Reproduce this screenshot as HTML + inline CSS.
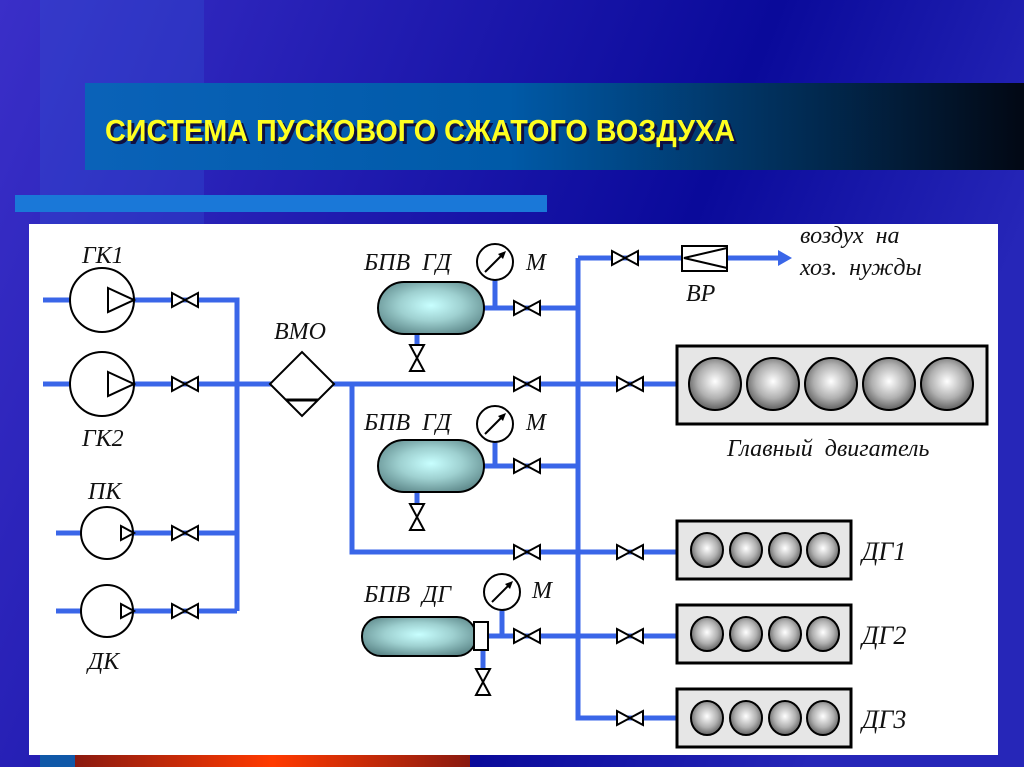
<!DOCTYPE html>
<html><head><meta charset="utf-8"><style>
html,body{margin:0;padding:0;width:1024px;height:767px;overflow:hidden}
svg{display:block}
.l{font-family:"Liberation Serif","DejaVu Serif",serif;font-style:italic;font-size:24px;fill:#111;word-spacing:6px}
.b{font-size:26px}
</style></head><body>
<svg width="1024" height="767" viewBox="0 0 1024 767" xmlns="http://www.w3.org/2000/svg">
<defs>
<linearGradient id="bg" x1="0" y1="0" x2="1" y2="0.3">
<stop offset="0" stop-color="#3a2fc8"/><stop offset="0.7" stop-color="#0a0a9a"/><stop offset="1" stop-color="#2626b8"/></linearGradient>
<linearGradient id="tb" x1="0" y1="0" x2="1" y2="0">
<stop offset="0" stop-color="#0a62b8"/><stop offset="0.45" stop-color="#005aa8"/><stop offset="1" stop-color="#020814"/></linearGradient>
<linearGradient id="rb" x1="0" y1="0" x2="1" y2="0">
<stop offset="0" stop-color="#8a1a10"/><stop offset="0.5" stop-color="#ff3a00"/><stop offset="1" stop-color="#8a1a10"/></linearGradient>
<radialGradient id="tank" cx="0.5" cy="0.45" r="0.6">
<stop offset="0" stop-color="#c8ffff"/><stop offset="0.5" stop-color="#9ed0d0"/><stop offset="1" stop-color="#5f8a8c"/></radialGradient>
<radialGradient id="cyl" cx="0.5" cy="0.45" r="0.55">
<stop offset="0" stop-color="#ffffff"/><stop offset="0.6" stop-color="#b0b0b0"/><stop offset="1" stop-color="#606060"/></radialGradient>
<g id="vh"><path d="M-13,-7 L13,7 L13,-7 L-13,7 Z" fill="#fff" stroke="#000" stroke-width="2"/></g>
<g id="vv"><path d="M-7,-13 L7,13 L-7,13 L7,-13 Z" fill="#fff" stroke="#000" stroke-width="2"/></g>
</defs>
<rect width="1024" height="767" fill="url(#bg)"/>
<rect x="40" y="0" width="164" height="767" fill="#3050d0" opacity="0.35"/>
<rect x="85" y="83" width="939" height="87" fill="url(#tb)"/>
<rect x="15" y="195" width="532" height="17" fill="#1a78d8"/>
<text x="108" y="144" font-family="'Liberation Sans',sans-serif" font-weight="bold" font-size="31" fill="#101040" textLength="630" lengthAdjust="spacingAndGlyphs">СИСТЕМА ПУСКОВОГО СЖАТОГО ВОЗДУХА</text>
<text x="105" y="141" font-family="'Liberation Sans',sans-serif" font-weight="bold" font-size="31" fill="#ffff20" textLength="630" lengthAdjust="spacingAndGlyphs">СИСТЕМА ПУСКОВОГО СЖАТОГО ВОЗДУХА</text>
<rect x="40" y="755" width="35" height="12" fill="#1058a8"/>
<rect x="75" y="755" width="395" height="12" fill="url(#rb)"/>
<rect x="29" y="224" width="969" height="531" fill="#fff"/>
<g stroke="#3a66e8" stroke-width="5" fill="none">
<path d="M43,300 H237 V611"/>
<path d="M43,384 H680"/>
<path d="M56,533 H237"/><path d="M56,611 H237"/>
<path d="M352,384 V552 H680"/>
<path d="M578,258 V718 H680"/>
<path d="M578,258 H682"/><path d="M727,258 H778"/>
<path d="M484,308 H578"/><path d="M495,280 V308"/>
<path d="M484,466 H578"/><path d="M495,442 V466"/>
<path d="M488,636 H680"/><path d="M502,610 V636"/>
<path d="M417,334 V352"/><path d="M417,492 V510"/><path d="M483,650 V676"/>
</g>
<path d="M778,250 L792,258 L778,266 Z" fill="#3a66e8"/>
<g stroke="#000" stroke-width="2" fill="#fff">
<circle cx="102" cy="300" r="32"/><path d="M108,288 L134,300 L108,312 Z"/>
<circle cx="102" cy="384" r="32"/><path d="M108,372 L134,384 L108,396 Z"/>
<circle cx="107" cy="533" r="26"/><path d="M121,526 L134,533 L121,540 Z"/>
<circle cx="107" cy="611" r="26"/><path d="M121,604 L134,611 L121,618 Z"/>
<path d="M270,384 L302,352 L334,384 L302,416 Z"/>
<line x1="286" y1="400" x2="318" y2="400" stroke-width="3"/>
<rect x="682" y="246" width="45" height="25"/>
<path d="M727,248 L684,258 L727,268" fill="none"/>
</g>
<use href="#vh" x="185" y="300"/><use href="#vh" x="185" y="384"/>
<use href="#vh" x="185" y="533"/><use href="#vh" x="185" y="611"/>
<use href="#vh" x="527" y="308"/><use href="#vh" x="527" y="384"/>
<use href="#vh" x="527" y="466"/><use href="#vh" x="527" y="552"/>
<use href="#vh" x="527" y="636"/>
<use href="#vh" x="625" y="258"/><use href="#vh" x="630" y="384"/>
<use href="#vh" x="630" y="552"/><use href="#vh" x="630" y="636"/><use href="#vh" x="630" y="718"/>
<use href="#vv" x="417" y="358"/><use href="#vv" x="417" y="517"/><use href="#vv" x="483" y="682"/>
<g stroke="#000" stroke-width="2">
<rect x="378" y="282" width="106" height="52" rx="26" fill="url(#tank)"/>
<rect x="378" y="440" width="106" height="52" rx="26" fill="url(#tank)"/>
<rect x="362" y="617" width="114" height="39" rx="19" fill="url(#tank)"/>
<rect x="474" y="622" width="14" height="28" fill="#fff"/>
</g>
<g stroke="#000" stroke-width="2" fill="#fff">
<circle cx="495" cy="262" r="18"/><circle cx="495" cy="424" r="18"/><circle cx="502" cy="592" r="18"/>
<line x1="485" y1="272" x2="503" y2="254"/><line x1="485" y1="434" x2="503" y2="416"/><line x1="492" y1="602" x2="510" y2="584"/>
</g>
<g fill="#000"><path d="M506,251 L498,254 L503,259 Z"/><path d="M506,413 L498,416 L503,421 Z"/><path d="M513,581 L505,584 L510,589 Z"/></g>
<g stroke="#000" stroke-width="3">
<rect x="677" y="346" width="310" height="78" fill="#e6e6e6"/>
<rect x="677" y="521" width="174" height="58" fill="#e6e6e6"/>
<rect x="677" y="605" width="174" height="58" fill="#e6e6e6"/>
<rect x="677" y="689" width="174" height="58" fill="#e6e6e6"/>
</g>
<g stroke="#000" stroke-width="2" fill="url(#cyl)">
<circle cx="715" cy="384" r="26"/><circle cx="773" cy="384" r="26"/><circle cx="831" cy="384" r="26"/><circle cx="889" cy="384" r="26"/><circle cx="947" cy="384" r="26"/>
<ellipse cx="707" cy="550" rx="16" ry="17"/><ellipse cx="746" cy="550" rx="16" ry="17"/><ellipse cx="785" cy="550" rx="16" ry="17"/><ellipse cx="823" cy="550" rx="16" ry="17"/>
<ellipse cx="707" cy="634" rx="16" ry="17"/><ellipse cx="746" cy="634" rx="16" ry="17"/><ellipse cx="785" cy="634" rx="16" ry="17"/><ellipse cx="823" cy="634" rx="16" ry="17"/>
<ellipse cx="707" cy="718" rx="16" ry="17"/><ellipse cx="746" cy="718" rx="16" ry="17"/><ellipse cx="785" cy="718" rx="16" ry="17"/><ellipse cx="823" cy="718" rx="16" ry="17"/>
</g>
<text class="l" x="82" y="263">ГК1</text>
<text class="l" x="82" y="446">ГК2</text>
<text class="l" x="88" y="499">ПК</text>
<text class="l" x="88" y="669">ДК</text>
<text class="l" x="274" y="339">ВМО</text>
<text class="l" x="364" y="270">БПВ  ГД</text>
<text class="l" x="526" y="270">М</text>
<text class="l" x="364" y="430">БПВ  ГД</text>
<text class="l" x="526" y="430">М</text>
<text class="l" x="364" y="602">БПВ  ДГ</text>
<text class="l" x="532" y="598">М</text>
<text class="l" x="686" y="301">ВР</text>
<text class="l" x="800" y="243">воздух  на</text>
<text class="l" x="800" y="275">хоз.  нужды</text>
<text class="l" x="727" y="456">Главный  двигатель</text>
<text class="l b" x="862" y="560">ДГ1</text>
<text class="l b" x="862" y="644">ДГ2</text>
<text class="l b" x="862" y="728">ДГ3</text>
</svg>
</body></html>
